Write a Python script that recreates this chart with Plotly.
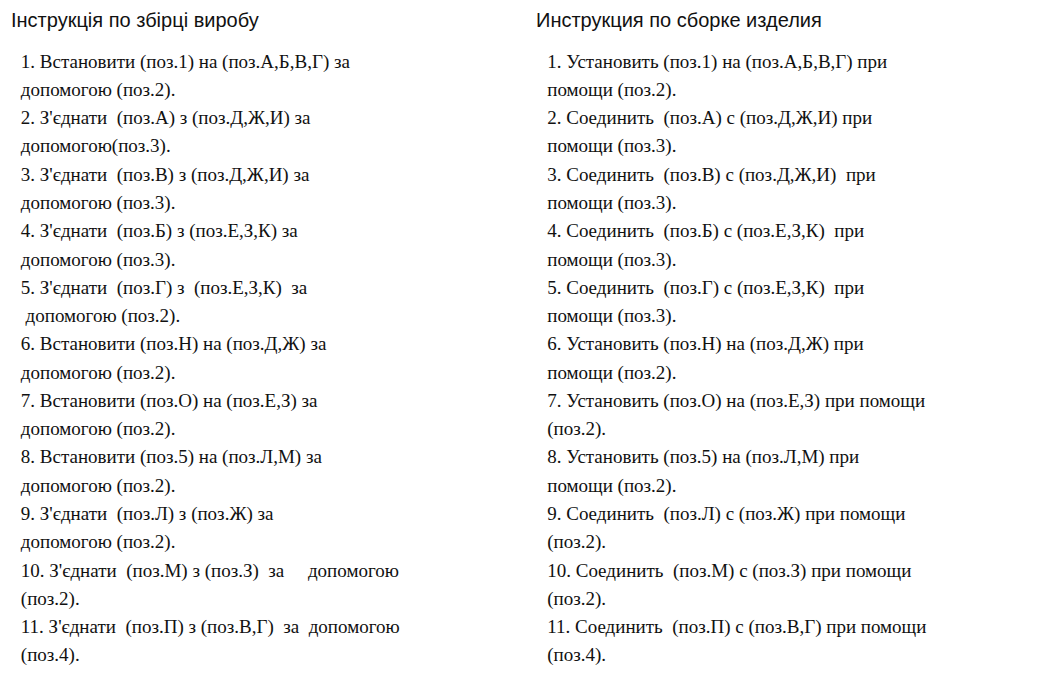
import plotly.graph_objects as go

NB = "\u00a0"

title_ua = "Інструкція по збірці виробу"
title_ru = "Инструкция по сборке изделия"

lines_ua = [
    "1. Встановити (поз.1) на (поз.А,Б,В,Г) за",
    "допомогою (поз.2).",
    "2. З'єднати  (поз.А) з (поз.Д,Ж,И) за",
    "допомогою(поз.3).",
    "3. З'єднати  (поз.В) з (поз.Д,Ж,И) за",
    "допомогою (поз.3).",
    "4. З'єднати  (поз.Б) з (поз.Е,З,К) за",
    "допомогою (поз.3).",
    "5. З'єднати  (поз.Г) з  (поз.Е,З,К)  за",
    " допомогою (поз.2).",
    "6. Встановити (поз.Н) на (поз.Д,Ж) за",
    "допомогою (поз.2).",
    "7. Встановити (поз.О) на (поз.Е,З) за",
    "допомогою (поз.2).",
    "8. Встановити (поз.5) на (поз.Л,М) за",
    "допомогою (поз.2).",
    "9. З'єднати  (поз.Л) з (поз.Ж) за",
    "допомогою (поз.2).",
    "10. З'єднати  (поз.М) з (поз.З)  за     допомогою",
    "(поз.2).",
    "11. З'єднати  (поз.П) з (поз.В,Г)  за  допомогою",
    "(поз.4).",
]

lines_ru = [
    "1. Установить (поз.1) на (поз.А,Б,В,Г) при",
    "помощи (поз.2).",
    "2. Соединить  (поз.А) с (поз.Д,Ж,И) при",
    "помощи (поз.3).",
    "3. Соединить  (поз.В) с (поз.Д,Ж,И)  при",
    "помощи (поз.3).",
    "4. Соединить  (поз.Б) с (поз.Е,З,К)  при",
    "помощи (поз.3).",
    "5. Соединить  (поз.Г) с (поз.Е,З,К)  при",
    "помощи (поз.3).",
    "6. Установить (поз.Н) на (поз.Д,Ж) при",
    "помощи (поз.2).",
    "7. Установить (поз.О) на (поз.Е,З) при помощи",
    "(поз.2).",
    "8. Установить (поз.5) на (поз.Л,М) при",
    "помощи (поз.2).",
    "9. Соединить  (поз.Л) с (поз.Ж) при помощи",
    "(поз.2).",
    "10. Соединить  (поз.М) с (поз.З) при помощи",
    "(поз.2).",
    "11. Соединить  (поз.П) с (поз.В,Г) при помощи",
    "(поз.4).",
]

def keep_spaces(s):
    return s.replace(" ", NB)

SERIF = "Liberation Serif, Times New Roman, DejaVu Serif, serif"
SANS = "Liberation Sans, Arial, sans-serif"

top, step = 56, 28.9
fig = go.Figure()
for x0, lines in [(13, lines_ua), (547, lines_ru)]:
    fig.add_trace(go.Scatter(
        x=[x0] * len(lines),
        y=[top + i * step for i in range(len(lines))],
        mode="text", text=[keep_spaces(s) for s in lines],
        textposition="middle right",
        textfont=dict(family=SERIF, size=19, color="#111"),
        hoverinfo="skip", showlegend=False))

for x0, t in [(1, title_ua), (534, title_ru)]:
    fig.add_annotation(x=x0, y=12, text=t, showarrow=False, xanchor="left",
                       yanchor="middle",
                       font=dict(family=SANS, size=20, color="#111"))

fig.update_xaxes(range=[0, 1055], visible=False)
fig.update_yaxes(range=[700, 0], visible=False)
fig.update_layout(width=1040, height=685, margin=dict(l=0, r=0, t=0, b=0),
                  plot_bgcolor="white", paper_bgcolor="white")
fig.write_html("out.html")
